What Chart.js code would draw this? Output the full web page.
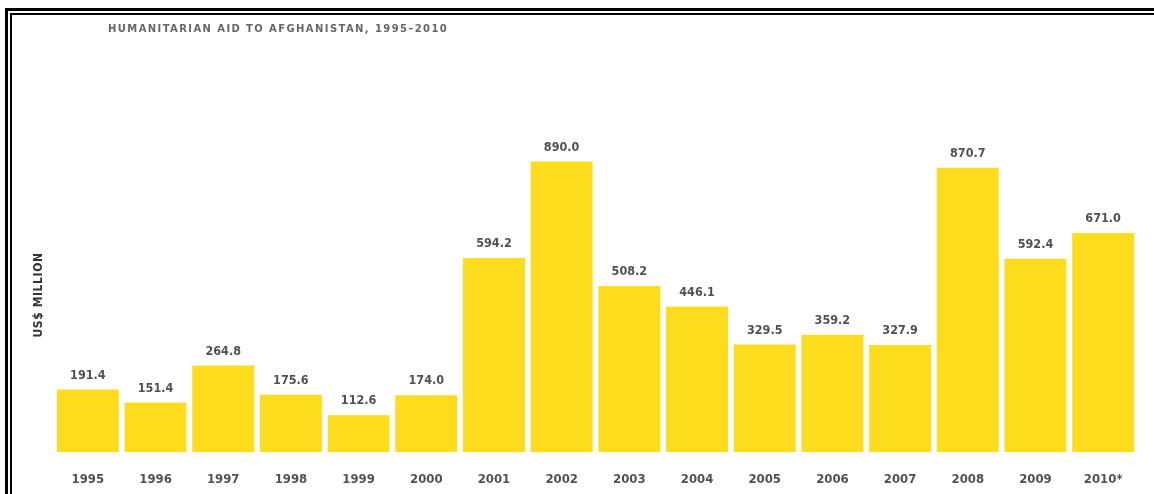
<!DOCTYPE html>
<html>
<head>
<meta charset="utf-8">
<title>Humanitarian aid to Afghanistan</title>
<script src="https://cdn.jsdelivr.net/npm/chart.js@4"></script>
<style>
  html, body { margin: 0; padding: 0; background: #fff; }
  body { width: 1154px; height: 494px; position: relative; overflow: hidden; }
  #chart { position: absolute; left: 0; top: 0; }
  .frame-outer {
    position: absolute; left: 5px; top: 8px; width: 1300px; height: 600px;
    border-left: 3px solid #000; border-top: 3px solid #000;
  }
  .frame-inner {
    position: absolute; left: 10px; top: 13px; width: 1300px; height: 600px;
    border-left: 2px solid #000; border-top: 2px solid #000;
  }
  .title {
    position: absolute; left: 108px; top: 23px;
    font: bold 10px "DejaVu Sans", sans-serif;
    letter-spacing: 1.4px;
    color: #666; white-space: nowrap;
  }
  .ylabel {
    position: absolute; left: 38px; top: 295px;
    transform: translate(-50%, -50%) rotate(-90deg);
    font: bold 12px "DejaVu Sans Condensed", sans-serif;
    letter-spacing: 0.6px;
    color: #333; white-space: nowrap;
  }
</style>
</head>
<body>
<canvas id="chart" width="1154" height="494"></canvas>
<div class="frame-outer"></div>
<div class="frame-inner"></div>
<div class="title">HUMANITARIAN AID TO AFGHANISTAN, 1995–2010</div>
<div class="ylabel">US$ MILLION</div>
<script>
// aid totals, US$ million
const years = ["1995", "1996", "1997", "1998", "1999", "2000", "2001", "2002",
               "2003", "2004", "2005", "2006", "2007", "2008", "2009", "2010*"];
const aid = [191.4, 151.4, 264.8, 175.6, 112.6, 174.0, 594.2, 890.0,
             508.2, 446.1, 329.5, 359.2, 327.9, 870.7, 592.4, 671.0];

const labelFont = 'bold 12.5px "DejaVu Sans Condensed", sans-serif';
const textColor = "#50505a";

// prints the value above each bar
const valueLabels = {
  id: "valueLabels",
  afterDatasetsDraw(chart) {
    const ctx = chart.ctx;
    const meta = chart.getDatasetMeta(0);
    ctx.save();
    ctx.font = labelFont;
    ctx.fillStyle = textColor;
    ctx.textAlign = "center";
    ctx.textBaseline = "middle";
    meta.data.forEach((bar, i) => {
      ctx.fillText(aid[i].toFixed(1), bar.x, bar.y - 14);
    });
    ctx.restore();
  }
};

new Chart(document.getElementById("chart"), {
  type: "bar",
  data: {
    labels: years,
    datasets: [{
      data: aid,
      backgroundColor: "#fddc1e",
      borderWidth: 0,
      barPercentage: 0.915,
      categoryPercentage: 1.0
    }]
  },
  options: {
    responsive: false,
    animation: false,
    layout: { padding: { left: 54, right: 17, top: 125.6, bottom: 7.6 } },
    scales: {
      x: {
        grid: { display: false, drawTicks: false },
        border: { display: false },
        afterFit(scale) { scale.height = 34.4; },
        ticks: {
          padding: 20,
          color: textColor,
          font: { family: "DejaVu Sans Condensed", size: 13, weight: "bold" },
          maxRotation: 0
        }
      },
      y: {
        display: false,
        min: 0,
        max: 1000
      }
    },
    plugins: {
      legend: { display: false },
      tooltip: { enabled: false }
    }
  },
  plugins: [valueLabels]
});
</script>
</body>
</html>
